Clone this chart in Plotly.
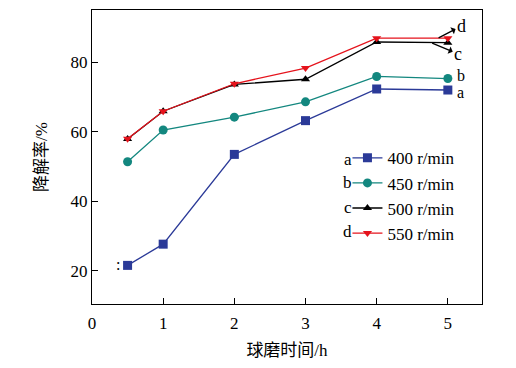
import plotly.graph_objects as go

time_h = [0.5, 1, 2, 3, 4, 5]
rate_400 = [21.6, 27.7, 53.5, 63.2, 72.3, 72.0]
rate_450 = [51.4, 60.5, 64.2, 68.6, 75.9, 75.3]
rate_500 = [57.9, 65.9, 73.6, 75.1, 85.8, 85.6]
rate_550 = [58.0, 65.9, 73.8, 78.3, 86.9, 86.9]
series_names = ["400 r/min", "450 r/min", "500 r/min", "550 r/min"]
series_letters = ["a", "b", "c", "d"]
x_ticks = [0, 1, 2, 3, 4, 5]
y_ticks = [20, 40, 60, 80]

FONT = "Liberation Serif, Noto Sans CJK SC"
colors = ["#2B3A98", "#13877F", "#000000", "#E5131C"]
symbols = ["square", "circle", "triangle-up", "triangle-down"]
sizes = [9, 9, 8, 8]

fig = go.Figure()
for vals, name, c, s, sz in zip([rate_400, rate_450, rate_500, rate_550],
                                series_names, colors, symbols, sizes):
    fig.add_trace(go.Scatter(
        x=time_h, y=vals, name=name, mode="lines+markers",
        line=dict(color=c, width=1.3),
        marker=dict(symbol=s, size=sz, color=c),
    ))

def tf(size):
    return dict(size=size, color="black", family=FONT)

ann = []
ann.append(dict(x=5.1, y=71.4, text="a", showarrow=False, xanchor="left", yanchor="middle",
                font=tf(16)))
ann.append(dict(x=5.1, y=76.2, text="b", showarrow=False, xanchor="left", yanchor="middle",
                font=tf(16)))
ann.append(dict(x=4.78, y=85.5, text="c", showarrow=True, arrowside="start", arrowhead=2,
                arrowsize=1.6, arrowwidth=1.3, arrowcolor="black", ax=26, ay=11,
                font=tf(18)))
ann.append(dict(x=4.87, y=87.0, text="d", showarrow=True, arrowside="start", arrowhead=2,
                arrowsize=1.6, arrowwidth=1.3, arrowcolor="black", ax=23, ay=-12,
                font=tf(18)))
ann.append(dict(x=0.37, y=21.8, text=":", showarrow=False, font=tf(16)))
legend_letter_y = [0.492, 0.413, 0.329, 0.246]
for letter, ly in zip(series_letters, legend_letter_y):
    ann.append(dict(xref="paper", yref="paper", x=0.672, y=ly, text=letter, showarrow=False,
                    xanchor="right", yanchor="middle", font=tf(17)))

fig.update_layout(
    width=500, height=352,
    margin=dict(l=84, r=26, t=2, b=56),
    paper_bgcolor="white", plot_bgcolor="white",
    font=tf(17),
    showlegend=True,
    legend=dict(x=0.655, y=0.557, xanchor="left", yanchor="top",
                bgcolor="rgba(0,0,0,0)", font=tf(17),
                itemwidth=30, tracegroupgap=0),
    annotations=ann,
    xaxis=dict(range=[0, 5.48], tickvals=x_ticks, ticks="inside", ticklen=6,
               tickcolor="black", showline=True, linecolor="black", linewidth=1.3,
               mirror=True, showgrid=False, zeroline=False, ticklabelstandoff=3,
               title=dict(text="球磨时间/h", font=tf(17), standoff=14),
               tickfont=tf(17)),
    yaxis=dict(range=[10.5, 95], tickvals=y_ticks, ticks="inside", ticklen=6,
               tickcolor="black", showline=True, linecolor="black", linewidth=1.3,
               mirror=True, showgrid=False, zeroline=False,
               title=dict(text="降解率/%", font=tf(17), standoff=18),
               tickfont=tf(17)),
)

fig.write_html("out.html")
